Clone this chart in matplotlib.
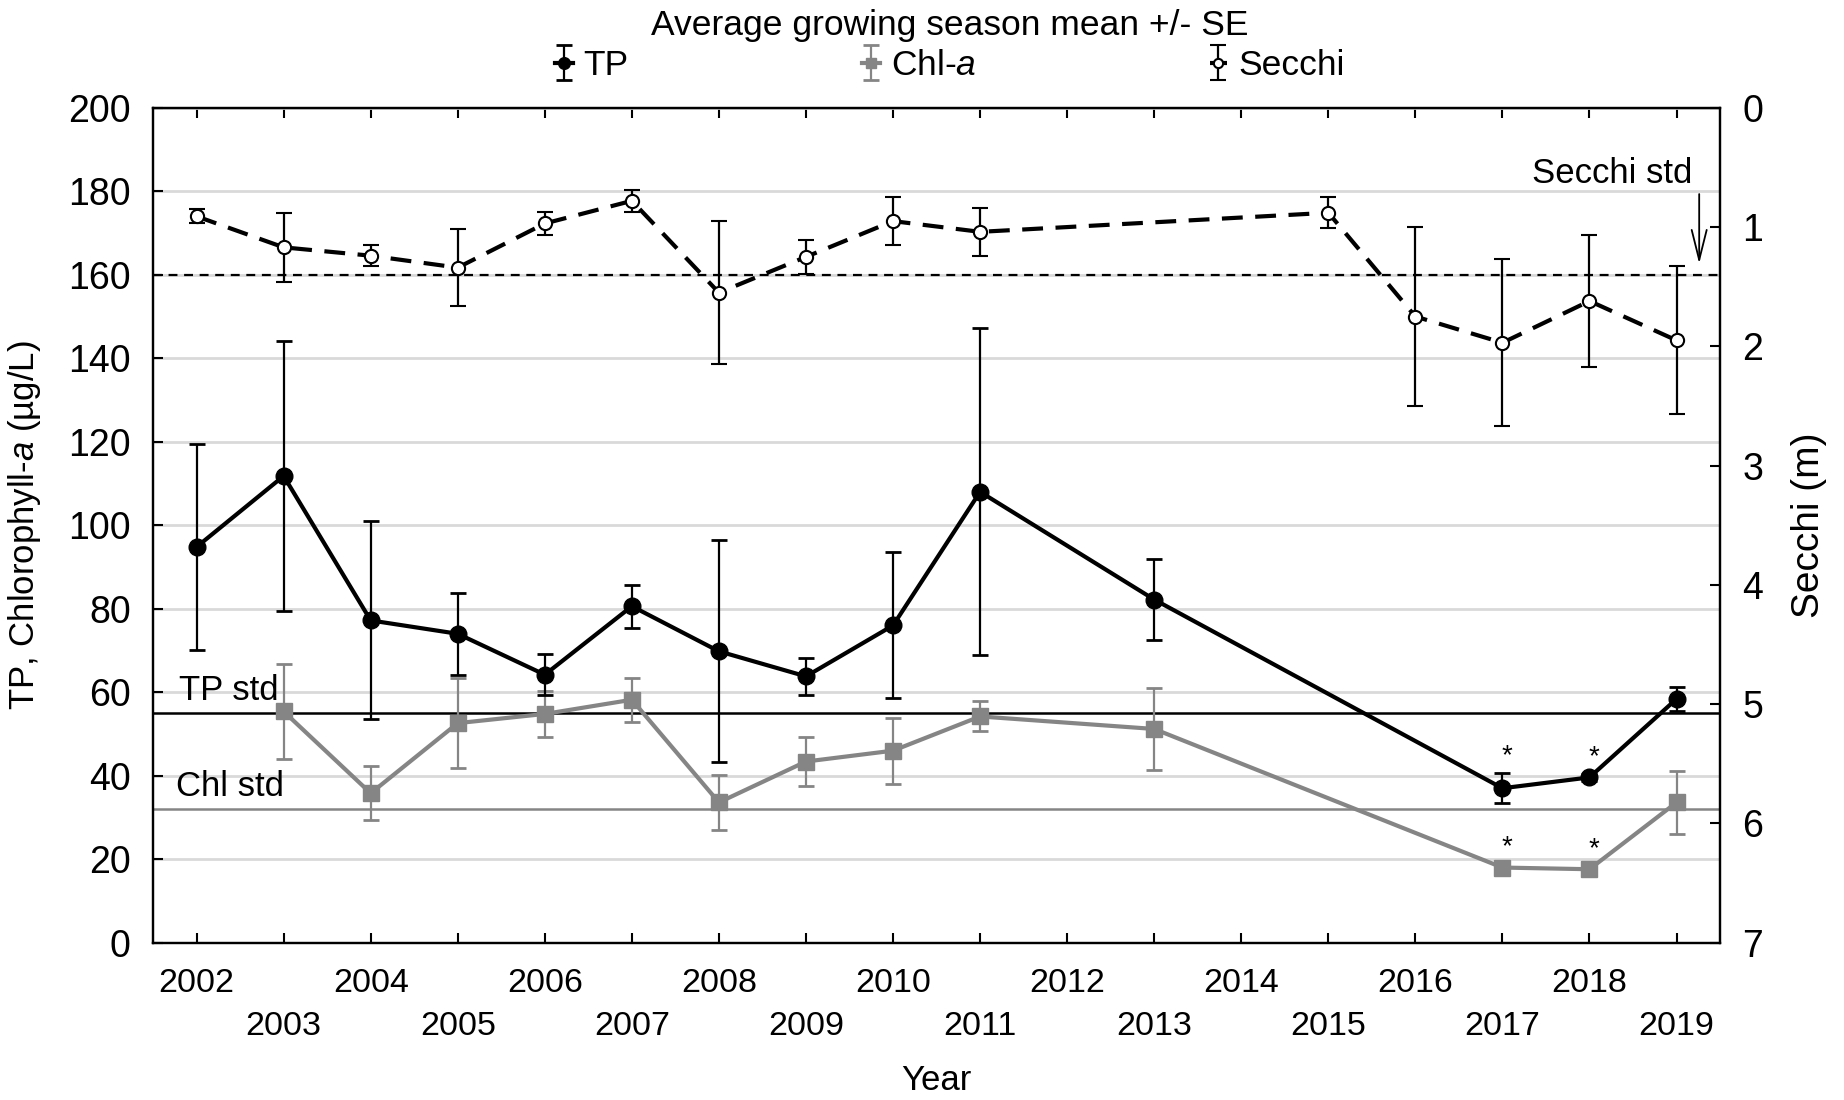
import matplotlib
matplotlib.use('Agg')
import matplotlib.pyplot as plt

plt.rcParams['font.family'] = ['Liberation Sans', 'DejaVu Sans']
plt.rcParams['mathtext.fontset'] = 'custom'
plt.rcParams['mathtext.it'] = 'Liberation Sans:italic'
plt.rcParams['mathtext.rm'] = 'Liberation Sans'

# TP (ug/L), growing season mean and SE
tp_years = [2002, 2003, 2004, 2005, 2006, 2007, 2008, 2009, 2010, 2011, 2013, 2017, 2018, 2019]
tp_mean = [94.8, 111.8, 77.2, 74.0, 64.2, 80.6, 69.8, 63.8, 76.0, 108.0, 82.2, 37.0, 39.6, 58.4]
tp_se = [24.7, 32.4, 23.7, 9.8, 4.9, 5.2, 26.6, 4.4, 17.5, 39.2, 9.6, 3.6, 0.8, 2.8]

# Chl-a (ug/L)
chl_years = [2003, 2004, 2005, 2006, 2007, 2008, 2009, 2010, 2011, 2013, 2017, 2018, 2019]
chl_mean = [55.4, 35.8, 52.6, 54.8, 58.2, 33.6, 43.4, 46.0, 54.2, 51.2, 18.0, 17.6, 33.6]
chl_se = [11.3, 6.5, 10.8, 5.5, 5.3, 6.6, 5.9, 7.9, 3.6, 9.9, 0.8, 0.7, 7.5]

# Secchi depth (m)
secchi_years = [2002, 2003, 2004, 2005, 2006, 2007, 2008, 2009, 2010, 2011, 2015, 2016, 2017, 2018, 2019]
secchi_mean = [0.91, 1.17, 1.24, 1.34, 0.97, 0.78, 1.55, 1.25, 0.95, 1.04, 0.88, 1.75, 1.97, 1.62, 1.95]
secchi_se = [0.06, 0.29, 0.09, 0.32, 0.10, 0.09, 0.60, 0.14, 0.20, 0.20, 0.13, 0.75, 0.70, 0.55, 0.62]

# standards
tp_std = 55
chl_std = 32
secchi_std = 1.4

star_years = [2017, 2018]

years = list(range(2002, 2020))
even_years = [y for y in years if y % 2 == 0]
odd_years = [y for y in years if y % 2 == 1]

grey = '#858585'

fig = plt.figure(figsize=(18.44, 11), dpi=100)
ax = fig.add_axes([0.083, 0.143, 0.8498, 0.759])
ax2 = ax.twinx()

ax.set_xlim(2001.5, 2019.5)
ax.set_ylim(0, 200)
ax.set_yticks(range(0, 201, 20))
ax.yaxis.grid(True, color='#d9d9d9', lw=2)
ax.set_axisbelow(True)

# standard lines
ax.axhline(tp_std, color='k', lw=1.8, zorder=1.5)
ax.axhline(chl_std, color=grey, lw=1.8, zorder=1.5)
ax2.axhline(secchi_std, color='k', lw=1.6, ls=(0, (4, 3)), zorder=1)

chl_eb = ax.errorbar(chl_years, chl_mean, yerr=chl_se, fmt='-s', color=grey, ecolor=grey,
                     lw=3, ms=11, capsize=6, capthick=2, elinewidth=1.6, zorder=3)
tp_eb = ax.errorbar(tp_years, tp_mean, yerr=tp_se, fmt='-o', color='k', ecolor='k',
                    lw=3, ms=12, capsize=6, capthick=2, elinewidth=1.6, zorder=4)
sec_eb = ax2.errorbar(secchi_years, secchi_mean, yerr=secchi_se, fmt='o', ls=(0, (5, 3)),
                      color='k', mfc='white', mec='k', mew=1.5, lw=3, ms=9.5,
                      capsize=6, capthick=2, elinewidth=1.6)

# significance stars
for y in star_years:
    i = tp_years.index(y)
    ax.annotate('*', (y, tp_mean[i] + tp_se[i]), xytext=(3, 12), textcoords='offset points',
                ha='center', va='center', fontsize=20)
    j = chl_years.index(y)
    ax.annotate('*', (y, chl_mean[j] + chl_se[j]), xytext=(3, 12), textcoords='offset points',
                ha='center', va='center', fontsize=20)

ax.text(2001.8, tp_std + 1.5, 'TP std', fontsize=25, ha='left', va='bottom')
ax.text(2001.76, chl_std + 1.5, 'Chl std', fontsize=25, ha='left', va='bottom')

ax2.set_ylim(7, 0)
ax2.set_yticks(range(0, 8))
ax2.text(2019.18, secchi_std - 0.85, 'Secchi std', fontsize=25, ha='right', va='center')
ax2.annotate('', xy=(2019.26, secchi_std - 0.07), xytext=(2019.26, secchi_std - 0.7),
             arrowprops=dict(arrowstyle='->,head_length=1.2,head_width=0.3', lw=1.3,
                             color='k', mutation_scale=18))

# x ticks on two rows
ax.set_xticks(even_years)
ax.set_xticklabels([str(y) for y in even_years])
ax.set_xticks(odd_years, minor=True)
ax.set_xticklabels([str(y) for y in odd_years], minor=True)
ax.tick_params(axis='x', which='major', direction='in', length=7, width=1.5,
               labelsize=24.5, pad=18, top=True)
ax.tick_params(axis='x', which='minor', direction='in', length=7, width=1.5,
               labelsize=24.5, pad=49, top=True)
ax.tick_params(axis='y', direction='in', length=7, width=1.5, labelsize=27, pad=16)
ax2.tick_params(axis='y', direction='in', length=7, width=1.5, labelsize=27, pad=16)

for a in (ax, ax2):
    for s in a.spines.values():
        s.set_linewidth(1.6)

ax.set_xlabel('Year', fontsize=25)
ax.xaxis.set_label_coords(0.5, -0.145)
ax.set_ylabel('TP, Chlorophyll-$a$ (µg/L)', fontsize=25)
ax.yaxis.set_label_coords(-0.07, 0.5)
ax2.set_ylabel('Secchi (m)', fontsize=28)
ax2.yaxis.set_label_coords(1.045, 0.5)

fig.legend([tp_eb, chl_eb, sec_eb], ['TP', 'Chl-$a$', 'Secchi'], loc='upper center',
           bbox_to_anchor=(0.515, 1.008), ncol=3, frameon=False,
           title='Average growing season mean +/- SE', title_fontsize=25.5, fontsize=25.5,
           columnspacing=6.6, handlelength=0.5, handletextpad=0.3, markerscale=0.7,
           borderpad=0.0, labelspacing=0.2)

fig.savefig('out.png', dpi=100)
